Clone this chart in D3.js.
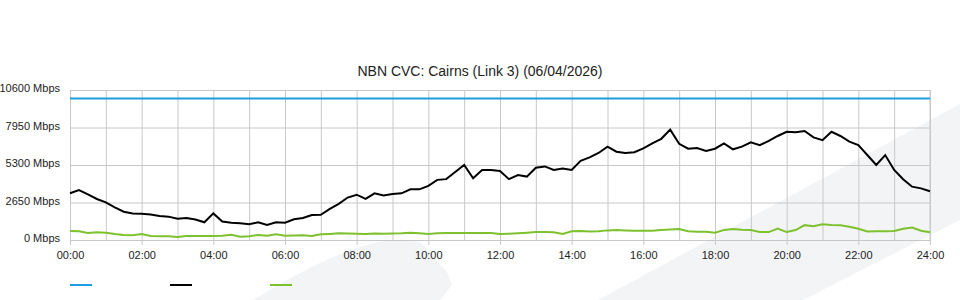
<!DOCTYPE html>
<html>
<head>
<meta charset="utf-8">
<script src="https://cdn.jsdelivr.net/npm/d3@7"></script>
<style>
  body { margin: 0; background: #fff; }
  svg { display: block; font-family: "Liberation Sans", Arial, sans-serif; }
</style>
</head>
<body>
<div id="chart"></div>
<script>
// chart data, one sample every 15 minutes from 00:00 to 24:00
var title = "NBN CVC: Cairns (Link 3) (06/04/2026)";
var stepMinutes = 15;
var capacity = 10000;
var yTicks = [0, 2650, 5300, 7950, 10600];
var xLabelHours = [0, 2, 4, 6, 8, 10, 12, 14, 16, 18, 20, 22, 24];

var traffic = [
  3300, 3530, 3230, 2900, 2660, 2300, 2000, 1880, 1850, 1800, 1700, 1650,
  1500, 1550, 1450, 1250, 1880, 1300, 1220, 1180, 1110, 1250, 1060, 1250,
  1220, 1460, 1550, 1770, 1780, 2200, 2550, 3000, 3200, 2900, 3300, 3150,
  3250, 3300, 3580, 3580, 3820, 4250, 4300, 4800, 5300, 4360, 4950, 4950,
  4880, 4300, 4590, 4480, 5110, 5200, 4950, 5050, 4950, 5600, 5840, 6150,
  6600, 6240, 6150, 6200, 6480, 6830, 7150, 7800, 6800, 6450, 6500, 6300,
  6450, 6830, 6410, 6600, 6900, 6700, 7000, 7350, 7650, 7610, 7700, 7250,
  7050, 7650, 7350, 6950, 6700, 6010, 5300, 6000, 4950, 4300, 3770, 3650,
  3450
];
var upload = [
  636, 620, 500, 540, 520, 420, 350, 340, 420, 280, 270, 260,
  212, 280, 283, 283, 283, 300, 377, 230, 260, 353, 300, 400,
  300, 320, 340, 290, 400, 430, 470, 460, 450, 420, 460, 450,
  460, 470, 520, 470, 420, 470, 500, 500, 500, 500, 500, 500,
  430, 450, 480, 520, 565, 570, 540, 424, 620, 640, 600, 620,
  680, 700, 680, 660, 660, 660, 700, 740, 780, 620, 590, 590,
  520, 700, 780, 720, 700, 560, 560, 800, 560, 700, 1050, 980,
  1110, 1060, 1040, 940, 800, 600, 620, 620, 640, 800, 880, 650,
  540
];

var colors = { capacity: "#1c9ee0", traffic: "#000000", upload: "#7ec12e" };

var width = 960, height = 300;
var margin = { top: 90, right: 30, bottom: 60, left: 70 };
var innerW = width - margin.left - margin.right;
var innerH = height - margin.top - margin.bottom;

var svg = d3.select("#chart").append("svg")
  .attr("width", width)
  .attr("height", height);

// faint watermark shapes behind the chart
var bg = svg.append("g").attr("fill", "#f3f4f6");
bg.append("path").attr("d", "M598,300 L960,104 L960,220 L803,300 Z");
bg.append("path").attr("d", "M253,300 C290,278 340,248 385,241 C400,239 415,240 422,244 L447,272 L452,285 L440,300 Z");

var x = d3.scaleLinear().domain([0, 24 * 60]).range([0, innerW]);
var y = d3.scaleLinear().domain([0, 10600]).range([innerH, 0]);

var g = svg.append("g")
  .attr("transform", "translate(" + margin.left + "," + margin.top + ")");

// vertical grid, one line per hour
g.append("g")
  .attr("class", "xgrid")
  .attr("transform", "translate(0," + innerH + ")")
  .call(d3.axisBottom(x).tickValues(d3.range(0, 25).map(function(h) { return h * 60; }))
    .tickSize(-innerH).tickFormat(""))
  .call(function(a) {
    a.select(".domain").remove();
    a.selectAll("line").attr("stroke", "#c8c8c8");
  });

// horizontal grid
g.append("g")
  .attr("class", "ygrid")
  .call(d3.axisLeft(y).tickValues(yTicks).tickSize(-innerW).tickFormat(""))
  .call(function(a) {
    a.select(".domain").remove();
    a.selectAll("line").attr("stroke", "#c8c8c8");
  });

// x labels + small ticks under the plot
g.append("g")
  .attr("transform", "translate(0," + innerH + ")")
  .call(d3.axisBottom(x).tickValues(xLabelHours.map(function(h) { return h * 60; }))
    .tickSize(5).tickPadding(6)
    .tickFormat(function(d) { return d3.format("02d")(d / 60) + ":00"; }))
  .call(function(a) {
    a.select(".domain").attr("stroke", "#c8c8c8");
    a.selectAll("line").attr("stroke", "#c8c8c8");
    a.selectAll("text").attr("font-size", 11).attr("fill", "#222")
      .attr("font-family", "Liberation Sans, Arial, sans-serif");
  });

// y labels
g.append("g")
  .call(d3.axisLeft(y).tickValues(yTicks).tickSize(0).tickPadding(10)
    .tickFormat(function(d) { return d + " Mbps"; }))
  .call(function(a) {
    a.select(".domain").remove();
    a.selectAll("text").attr("font-size", 11).attr("fill", "#222")
      .attr("dy", "0.15em")
      .attr("font-family", "Liberation Sans, Arial, sans-serif");
  });

// right border
g.append("line")
  .attr("x1", innerW).attr("x2", innerW)
  .attr("y1", 0).attr("y2", innerH)
  .attr("stroke", "#c8c8c8");

var line = d3.line()
  .x(function(d, i) { return x(i * stepMinutes); })
  .y(function(d) { return y(d); });

g.append("line")
  .attr("x1", x(0)).attr("x2", x(24 * 60))
  .attr("y1", y(capacity)).attr("y2", y(capacity))
  .attr("stroke", colors.capacity)
  .attr("stroke-width", 2);

g.append("path")
  .datum(upload)
  .attr("d", line)
  .attr("fill", "none")
  .attr("stroke", colors.upload)
  .attr("stroke-width", 2);

g.append("path")
  .datum(traffic)
  .attr("d", line)
  .attr("fill", "none")
  .attr("stroke", colors.traffic)
  .attr("stroke-width", 2);

// title, centred on the page
svg.append("text")
  .attr("x", width / 2)
  .attr("y", 76)
  .attr("text-anchor", "middle")
  .attr("font-size", 14)
  .attr("fill", "#222")
  .text(title);

// legend swatches (no labels in the original)
var legend = svg.append("g").attr("transform", "translate(70,285)");
[colors.capacity, colors.traffic, colors.upload].forEach(function(c, i) {
  legend.append("line")
    .attr("x1", i * 100).attr("x2", i * 100 + 22)
    .attr("y1", 0).attr("y2", 0)
    .attr("stroke", c)
    .attr("stroke-width", 2);
});
</script>
</body>
</html>
